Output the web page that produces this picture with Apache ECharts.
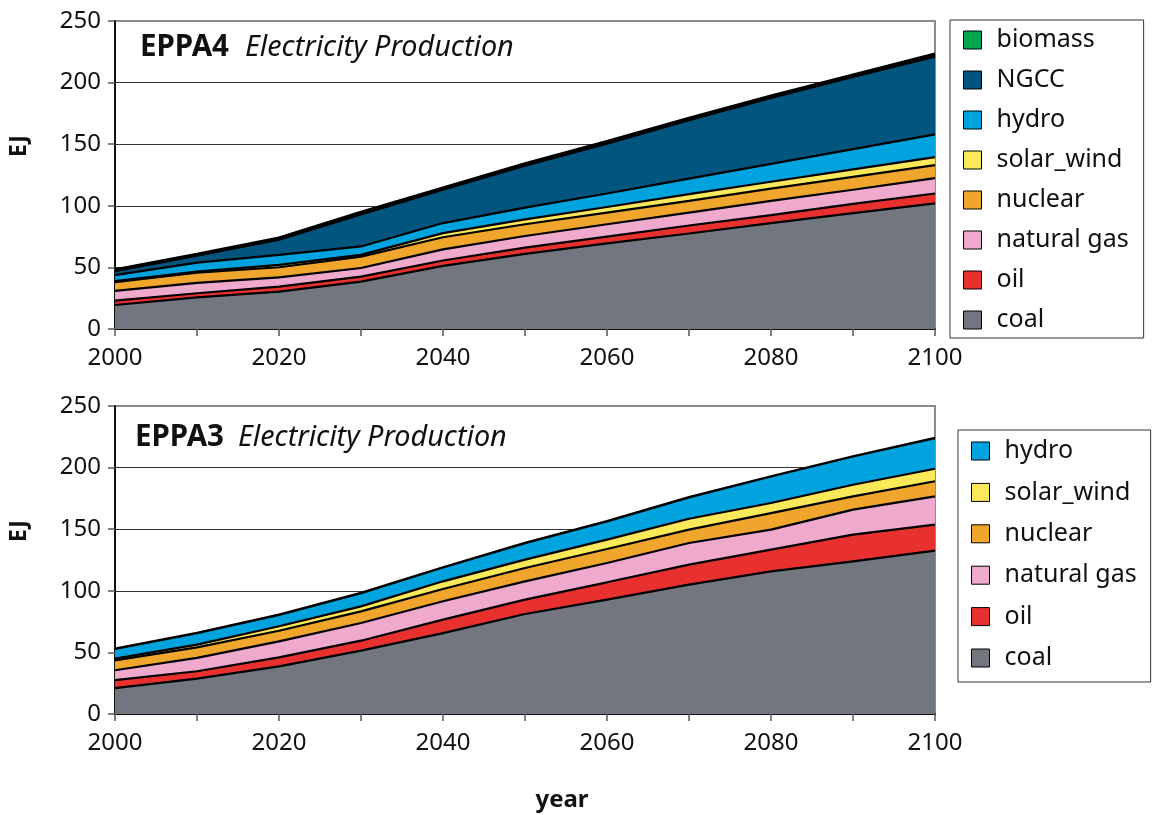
<!DOCTYPE html>
<html><head><meta charset="utf-8">
<script src="https://cdn.jsdelivr.net/npm/echarts@6/dist/echarts.min.js"></script>
<style>html,body{margin:0;padding:0;background:#fff}#c{width:1153px;height:815px}</style>
</head><body><div id="c"></div>
<script>
const years = ['2000','2010','2020','2030','2040','2050','2060','2070','2080','2090','2100'];
const yTicks = [0, 50, 100, 150, 200, 250];

// EPPA4 (top panel), EJ per layer
const e4_coal     = [19.5, 25.7, 30.4, 38.5, 51.2, 61.0, 69.5, 77.5, 86.0, 94.0, 102.0];
const e4_oil      = [3.5, 3.3, 4.0, 4.0, 4.4, 5.0, 5.5, 6.5, 6.5, 7.5, 8.0];
const e4_gas      = [8.0, 8.5, 7.5, 7.0, 9.0, 9.5, 10.0, 10.5, 11.5, 11.5, 12.5];
const e4_nuclear  = [7.0, 8.3, 8.2, 9.3, 9.9, 9.5, 9.5, 9.5, 10.0, 10.5, 10.5];
const e4_solar    = [0.8, 0.8, 1.9, 1.4, 3.3, 4.0, 4.5, 5.5, 5.5, 6.0, 6.5];
const e4_hydro    = [5.0, 7.3, 8.2, 6.8, 8.2, 9.5, 11.0, 12.5, 14.5, 16.5, 18.5];
const e4_ngcc     = [3.2, 5.6, 12.3, 26.0, 27.0, 34.0, 40.5, 47.5, 53.5, 58.5, 63.0];
const e4_biomass  = [1.0, 1.0, 1.2, 1.6, 1.4, 1.5, 1.5, 1.5, 1.5, 1.5, 2.0];

// EPPA3 (bottom panel)
const e3_coal     = [21.0, 28.7, 38.7, 51.4, 65.7, 81.2, 92.8, 105.0, 115.8, 123.9, 132.6];
const e3_oil      = [6.5, 6.0, 7.3, 8.1, 10.9, 11.6, 14.1, 16.2, 17.6, 21.7, 21.1];
const e3_gas      = [8.0, 10.8, 13.0, 14.4, 14.9, 14.9, 15.7, 17.6, 16.2, 20.3, 23.0];
const e3_nuclear  = [8.0, 8.6, 8.6, 9.4, 10.0, 10.8, 11.3, 10.8, 13.5, 10.8, 12.2];
const e3_solar    = [1.5, 2.2, 3.6, 4.1, 6.2, 6.8, 7.6, 8.9, 8.2, 9.4, 10.2];
const e3_hydro    = [8.0, 9.4, 9.4, 10.8, 11.3, 13.5, 14.9, 17.4, 21.6, 23.0, 24.9];

const legendTop = ['biomass','NGCC','hydro','solar_wind','nuclear','natural gas','oil','coal'];
const legendBottom = ['hydro','solar_wind','nuclear','natural gas','oil','coal'];

const COLORS = {
  coal: '#72767e', oil: '#e8302f', 'natural gas': '#eea9cc', nuclear: '#f0a62c',
  solar_wind: '#fbe95a', hydro: '#00a3dd', NGCC: '#02557f', biomass: '#00a650'
};
const FONT = 'Noto Sans';

function mkSeries(name, data, idx, stack, lw) {
  return {
    name: name, type: 'line', data: data, stack: stack,
    xAxisIndex: idx, yAxisIndex: idx,
    symbol: 'none', color: COLORS[name],
    lineStyle: { color: '#000', width: lw || 2.2 },
    areaStyle: { color: COLORS[name], opacity: 1 },
    emphasis: { disabled: true }
  };
}

function xAxis(idx) {
  return {
    type: 'category', gridIndex: idx, data: years, boundaryGap: false,
    axisLine: { lineStyle: { color: '#111', width: 2 } },
    axisTick: { show: true, interval: 0, length: 7, lineStyle: { color: '#555', width: 1.5 } },
    axisLabel: { interval: 1, color: '#111', fontSize: 24, fontFamily: FONT, margin: 17 },
    splitLine: { show: false }
  };
}
function yAxis(idx) {
  return {
    type: 'value', gridIndex: idx, min: 0, max: 250, interval: 50,
    axisLine: { show: true, lineStyle: { color: '#111', width: 2 } },
    axisTick: { show: true, length: 7, lineStyle: { color: '#555', width: 1.5 } },
    axisLabel: { color: '#111', fontSize: 24, fontFamily: FONT, margin: 14,
      formatter: function (v) { return yTicks.indexOf(v) >= 0 ? String(v) : ''; } },
    splitLine: { show: true, lineStyle: { color: ['#333','#333','#333','#333','#333','#8c8c8c'], width: 1.2 } }
  };
}
function legend(data, left, top, padding, gap) {
  return {
    data: data, orient: 'vertical', left: left, top: top, padding: padding,
    itemGap: gap, itemWidth: 18, itemHeight: 18, icon: 'rect',
    backgroundColor: '#fff', borderColor: '#333', borderWidth: 1, borderRadius: 0,
    itemStyle: { borderColor: '#000', borderWidth: 1 },
    textStyle: { fontSize: 25, fontFamily: FONT, color: '#111', lineHeight: 26, padding: [0, 0, 0, 10] },
    selectedMode: false
  };
}

const chart = echarts.init(document.getElementById('c'), null, { renderer: 'canvas' });
chart.setOption({
  animation: false,
  backgroundColor: '#fff',
  grid: [
    { left: 115, top: 21, width: 820, height: 308, show: true, borderColor: '#8c8c8c', borderWidth: 2, backgroundColor: '#fff' },
    { left: 115, top: 406, width: 820, height: 308, show: true, borderColor: '#8c8c8c', borderWidth: 2, backgroundColor: '#fff' }
  ],
  xAxis: [xAxis(0), xAxis(1)],
  yAxis: [yAxis(0), yAxis(1)],
  legend: [
    legend(legendTop, 950, 20, [7, 15, 5, 13], 14),
    legend(legendBottom, 958, 430, [8, 14, 11, 13], 15.4)
  ],
  graphic: [
    { type: 'text', left: 140, top: 33, z: 100, style: { text: 'EPPA4', font: 'bold 29.5px "Noto Sans"', fill: '#111' } },
    { type: 'text', left: 245, top: 33, z: 100, style: { text: 'Electricity Production', font: 'italic 28.8px "Noto Sans"', fill: '#111' } },
    { type: 'text', left: 135, top: 423, z: 100, style: { text: 'EPPA3', font: 'bold 29.5px "Noto Sans"', fill: '#111' } },
    { type: 'text', left: 238, top: 423, z: 100, style: { text: 'Electricity Production', font: 'italic 28.8px "Noto Sans"', fill: '#111' } },
    { type: 'text', x: 19, y: 146, rotation: Math.PI / 2, z: 100, style: { text: 'EJ', font: 'bold 23px "Noto Sans"', fill: '#111', align: 'center', verticalAlign: 'middle' } },
    { type: 'text', x: 19, y: 531, rotation: Math.PI / 2, z: 100, style: { text: 'EJ', font: 'bold 23px "Noto Sans"', fill: '#111', align: 'center', verticalAlign: 'middle' } },
    { type: 'text', x: 562, y: 800, z: 100, style: { text: 'year', font: 'bold 24px "Noto Sans"', fill: '#111', align: 'center', verticalAlign: 'middle' } }
  ],
  series: [
    mkSeries('coal', e4_coal, 0, 'a'),
    mkSeries('oil', e4_oil, 0, 'a'),
    mkSeries('natural gas', e4_gas, 0, 'a'),
    mkSeries('nuclear', e4_nuclear, 0, 'a'),
    mkSeries('solar_wind', e4_solar, 0, 'a'),
    mkSeries('hydro', e4_hydro, 0, 'a'),
    mkSeries('NGCC', e4_ngcc, 0, 'a'),
    mkSeries('biomass', e4_biomass, 0, 'a', 3.5),
    mkSeries('coal', e3_coal, 1, 'b'),
    mkSeries('oil', e3_oil, 1, 'b'),
    mkSeries('natural gas', e3_gas, 1, 'b'),
    mkSeries('nuclear', e3_nuclear, 1, 'b'),
    mkSeries('solar_wind', e3_solar, 1, 'b'),
    mkSeries('hydro', e3_hydro, 1, 'b', 2.5)
  ]
});
</script>
</body></html>
